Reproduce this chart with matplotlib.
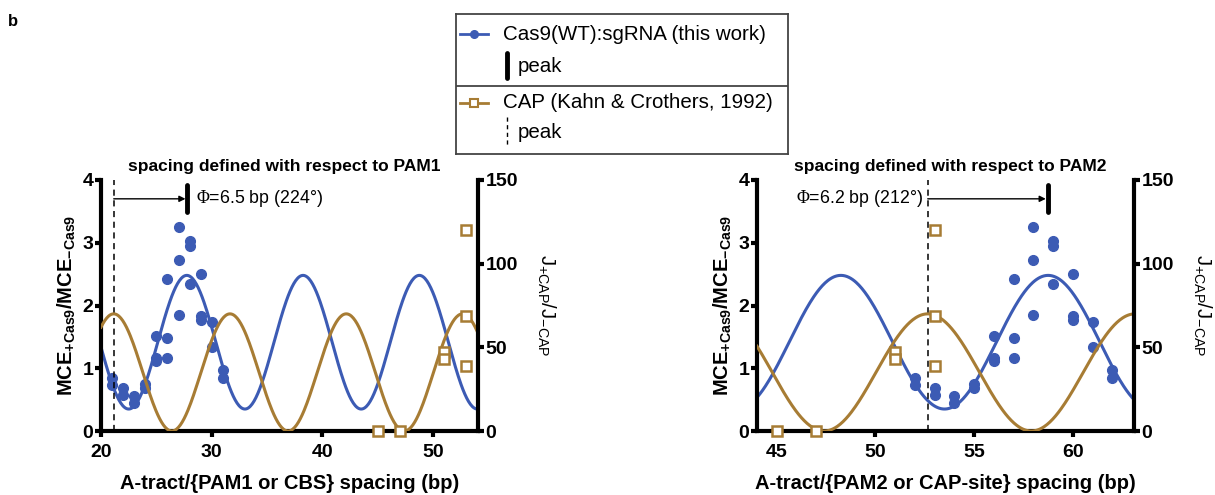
import numpy as np
import matplotlib
matplotlib.use('Agg')
import matplotlib.pyplot as plt

plt.rcParams['font.family'] = ['Liberation Sans', 'DejaVu Sans']
plt.rcParams['mathtext.fontset'] = 'custom'
plt.rcParams['mathtext.rm'] = 'Liberation Sans'
plt.rcParams['mathtext.bf'] = 'Liberation Sans:bold'
plt.rcParams['mathtext.it'] = 'Liberation Sans:italic'
plt.rcParams['mathtext.sf'] = 'Liberation Serif'

# Cas9(WT):sgRNA data, spacing relative to PAM1 and PAM2
cas9_pam1 = [21, 21, 22, 22, 23, 23, 24, 24, 25, 25, 25, 26, 26, 26,
             27, 27, 27, 28, 28, 28, 29, 29, 29, 30, 30, 31, 31]
cas9_pam2 = [52, 52, 53, 53, 54, 54, 55, 55, 56, 56, 56, 57, 57, 57,
             58, 58, 58, 59, 59, 59, 60, 60, 60, 61, 61, 62, 62]
cas9_mce = [0.84, 0.73, 0.68, 0.57, 0.55, 0.44, 0.75, 0.68, 1.52, 1.16, 1.12,
            1.48, 1.17, 2.42, 3.25, 2.72, 1.85, 3.02, 2.95, 2.34, 2.50, 1.83,
            1.77, 1.73, 1.34, 0.97, 0.84]

# CAP data (Kahn & Crothers, 1992)
cap_spacing = [45, 47, 51, 51, 53, 53, 53]
cap_j = [0, 0, 47, 43, 120, 69, 39]

# sine fits: mean, amplitude, period; peak positions
cas9_fit = dict(mean=1.415, amp=1.065, period=10.5)
cas9_peak_pam1 = 27.75
cas9_peak_pam2 = 58.75
cap_fit = dict(mean=35.0, amp=35.0, period=10.5)
cap_peak = 52.65

blue = '#3C5BB4'
gold = '#A77C34'


def sine(x, fit, peak):
    return fit['mean'] + fit['amp'] * np.cos(2 * np.pi * (x - peak) / fit['period'])


fig = plt.figure(figsize=(12.15, 4.95), dpi=100)

panels = [
    dict(rect=[101/1215, 64/495, 377/1215, 251/495], xlim=(20, 54.05), xticks=[20, 30, 40, 50],
         cas9_x=cas9_pam1, cas9_peak=cas9_peak_pam1,
         cap_peak=cap_peak - 3 * cap_fit['period'],
         title='spacing defined with respect to PAM1', title_x=0.487,
         phi='=6.5 bp (224°)', phi_side='right',
         xlabel='A-tract/{PAM1 or CBS} spacing (bp)'),
    dict(rect=[757/1215, 64/495, 377/1215, 251/495], xlim=(44, 63.1), xticks=[45, 50, 55, 60],
         cas9_x=cas9_pam2, cas9_peak=cas9_peak_pam2, cap_peak=cap_peak,
         title='spacing defined with respect to PAM2', title_x=0.513,
         phi='=6.2 bp (212°)', phi_side='left',
         xlabel='A-tract/{PAM2 or CAP-site} spacing (bp)'),
]

for p in panels:
    ax = fig.add_axes(p['rect'])
    ax2 = ax.twinx()
    xs = np.linspace(p['xlim'][0], p['xlim'][1], 400)

    ax.plot(xs, sine(xs, cas9_fit, p['cas9_peak']), color=blue, lw=2.2, zorder=2)
    ax.plot(p['cas9_x'], cas9_mce, 'o', color=blue, ms=7, mec=blue, zorder=3, clip_on=False)

    ax2.plot(xs, sine(xs, cap_fit, p['cap_peak']), color=gold, lw=2.2)
    ax2.plot(cap_spacing, cap_j, 's', mfc='white', mec=gold, mew=1.8, ms=7.5, clip_on=False, zorder=5)

    ax.set_xlim(p['xlim'])
    ax.set_ylim(0, 4)
    ax2.set_ylim(0, 150)
    ax.set_xticks(p['xticks'])
    ax.set_yticks([0, 1, 2, 3, 4])
    ax2.set_yticks([0, 50, 100, 150])

    for a in (ax, ax2):
        for s in a.spines.values():
            s.set_linewidth(3)
        a.spines['top'].set_visible(False)
        a.tick_params(width=3, length=4.5, labelsize=14, pad=1)
    ax.spines['right'].set_visible(False)
    ax2.spines['left'].set_visible(False)
    ax2.spines['bottom'].set_visible(False)
    ax.tick_params(axis='x', pad=5)
    for lbl in ax.get_xticklabels() + ax.get_yticklabels() + ax2.get_yticklabels():
        lbl.set_fontweight('bold')

    ax.set_xlabel(p['xlabel'], fontsize=14.5, fontweight='bold', labelpad=9)
    ax.set_ylabel(r'MCE$_{\mathbf{+Cas9}}$/MCE$_{\mathbf{-Cas9}}$', fontsize=14.5,
                  fontweight='bold', labelpad=3)
    ax2.set_ylabel(r'J$_{\mathrm{+CAP}}$/J$_{\mathrm{-CAP}}$', fontsize=14.5,
                   rotation=270, labelpad=28)

    ax.text(p['title_x'], 1.052, p['title'], transform=ax.transAxes, ha='center',
            va='center', fontsize=12.5, fontweight='bold')

    # peak annotations
    cp, kp = p['cap_peak'], p['cas9_peak']
    ax.plot([cp, cp], [0, 4], color='k', lw=1.1, dashes=(4, 3), clip_on=False, zorder=4)
    ax.plot([kp, kp], [3.49, 3.92], color='k', lw=3.5, solid_capstyle='round', clip_on=False, zorder=4)
    ax.annotate('', xy=(kp - 0.12, 3.70), xytext=(cp, 3.70),
                arrowprops=dict(arrowstyle='-|>', lw=1, color='k', mutation_scale=9,
                                shrinkA=0, shrinkB=0), annotation_clip=False)
    if p['phi_side'] == 'right':
        ax.text(kp + 0.85, 3.70, r'$\mathsf{\Phi}$' + p['phi'], ha='left', va='center', fontsize=12.8)
    else:
        ax.text(cp - 0.25, 3.70, r'$\mathsf{\Phi}$' + p['phi'], ha='right', va='center', fontsize=12.8)

# legend box
leg = fig.add_axes([456/1215, 1 - 154/495, 332/1215, 140/495])
leg.set_xlim(456, 788)
leg.set_ylim(154, 14)
leg.set_xticks([])
leg.set_yticks([])
for s in leg.spines.values():
    s.set_linewidth(1.3)
    s.set_color('#444444')
leg.plot([456, 788], [86, 86], color='#444444', lw=1.3)
leg.plot([460, 488], [34, 34], color=blue, lw=2)
leg.plot([474], [34], 'o', color=blue, ms=5.5)
leg.text(503, 34, 'Cas9(WT):sgRNA (this work)', va='center', fontsize=14.8)
leg.plot([507, 507], [53, 78], color='k', lw=3.5, solid_capstyle='round')
leg.text(518, 66, 'peak', va='center', fontsize=14.8)
leg.plot([460, 488], [103, 103], color=gold, lw=2)
leg.plot([474], [103], 's', mfc='white', mec=gold, mew=1.5, ms=6)
leg.text(503, 103, 'CAP (Kahn & Crothers, 1992)', va='center', fontsize=14.8)
leg.plot([507, 507], [117, 147], color='k', lw=1, dashes=(3, 2.5))
leg.text(518, 132, 'peak', va='center', fontsize=14.8)

fig.text(8/1215, 1 - 21/495, 'b', fontsize=12, fontweight='bold', va='center')

fig.savefig('out.png', dpi=100)
